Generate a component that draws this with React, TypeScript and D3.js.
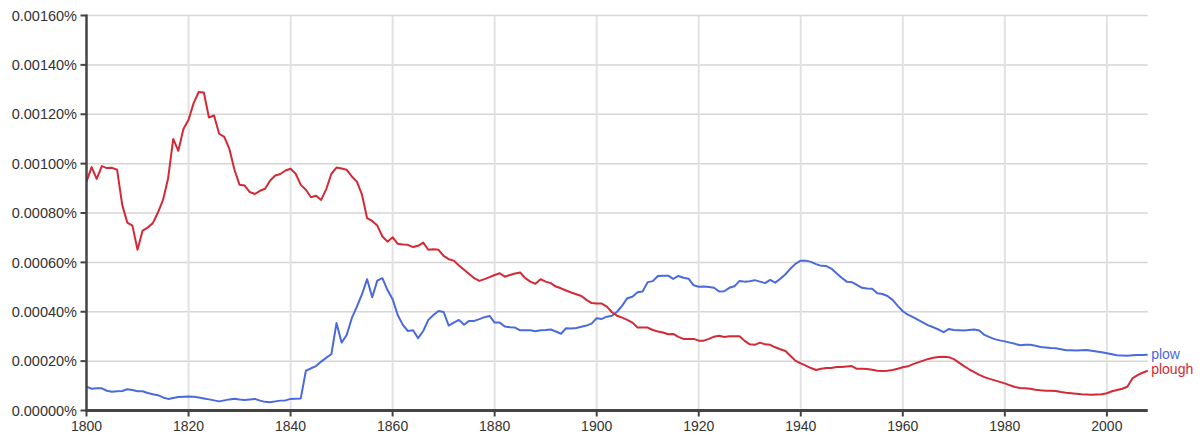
import React from "react";
import * as d3 from "d3";

const startYear = 1800;
const endYear = 2008;

const ploughValues: number[] = [
  0.000927, 0.000986, 0.000938, 0.00099, 0.000982, 0.000983, 0.000975, 0.000833, 0.000761, 0.000749,
  0.000651, 0.000729, 0.000741, 0.000759, 0.000802, 0.000853, 0.000941, 0.0011, 0.001052, 0.00114,
  0.001178, 0.001245, 0.00129, 0.001288, 0.001187, 0.001195, 0.001121, 0.001108, 0.00106, 0.000975,
  0.000914, 0.000911, 0.000885, 0.000877, 0.00089, 0.000898, 0.000932, 0.000952, 0.000958, 0.000972,
  0.000979, 0.000959, 0.000914, 0.000894, 0.000864, 0.00087, 0.000853, 0.000897, 0.000959, 0.000984,
  0.00098, 0.000975, 0.000948, 0.000927, 0.000874, 0.000779, 0.000768, 0.000749, 0.000705, 0.000684,
  0.000702, 0.000675, 0.000672, 0.000671, 0.000662, 0.000667, 0.00068, 0.000651, 0.000653, 0.000651,
  0.000626, 0.000613, 0.000607, 0.000587, 0.00057, 0.000553, 0.000536, 0.000525, 0.000532, 0.00054,
  0.000549, 0.000556, 0.000542, 0.000549, 0.000555, 0.000559, 0.000536, 0.000522, 0.000513, 0.000532,
  0.000522, 0.000516, 0.000502, 0.000495, 0.000486, 0.000478, 0.000471, 0.000464, 0.000448, 0.000435,
  0.000433, 0.000433, 0.000421, 0.000398, 0.000384, 0.000376, 0.000367, 0.000356, 0.000336, 0.000336,
  0.000336, 0.000326, 0.00032, 0.000316, 0.000309, 0.00031, 0.000298, 0.00029, 0.00029, 0.00029,
  0.000283, 0.000283, 0.00029, 0.000299, 0.000303, 0.000298, 0.000301, 0.000301, 0.000301, 0.000282,
  0.000268, 0.000266, 0.000275, 0.000268, 0.000266, 0.000256, 0.000248, 0.000241, 0.000221, 0.000201,
  0.000191, 0.000182, 0.000172, 0.000164, 0.000169, 0.000172, 0.000172, 0.000176, 0.000176, 0.000178,
  0.00018, 0.000169, 0.000169, 0.000168, 0.000165, 0.000161, 0.00016, 0.000161, 0.000164, 0.000169,
  0.000175, 0.000179, 0.000188, 0.000195, 0.000202, 0.000209, 0.000214, 0.000217, 0.000218, 0.000216,
  0.000208, 0.000194, 0.00018, 0.000167, 0.000155, 0.000144, 0.000135, 0.000128, 0.000122, 0.000116,
  0.00011, 0.000102, 0.0000953, 0.0000912, 0.00009, 0.0000884, 0.0000843, 0.0000819, 0.0000803, 0.00008,
  0.000079, 0.000075, 0.000072, 0.00007, 0.000068, 0.000066, 0.000065, 0.000064, 0.000065, 0.000066,
  0.00007, 0.000078, 0.000083, 0.000088, 0.000096, 0.00013, 0.000143, 0.000153, 0.000161,
];

const plowValues: number[] = [
  0.0000965, 0.000088, 0.00009, 0.00009, 0.00008, 0.000076, 0.000078, 0.000079, 0.000086, 0.000083,
  0.000078, 0.000078, 0.000071, 0.000066, 0.000062, 0.000053, 0.000047, 0.000051, 0.000055, 0.000056,
  0.000057, 0.000056, 0.000053, 0.000049, 0.000045, 0.000041, 0.000037, 0.000041, 0.000045, 0.000048,
  0.000045, 0.000043, 0.000045, 0.000047, 0.00004, 0.000035, 0.000033, 0.000037, 0.00004, 0.000041,
  0.000047, 0.000048, 0.000049, 0.000161, 0.000171, 0.00018, 0.000198, 0.000214, 0.000228, 0.000354,
  0.000275, 0.000306, 0.000374, 0.000421, 0.000471, 0.000532, 0.000459, 0.000526, 0.000536, 0.000488,
  0.000451, 0.000387, 0.000347, 0.000322, 0.000325, 0.000293, 0.000322, 0.000367, 0.000387, 0.000403,
  0.000399, 0.000344, 0.000356, 0.000367, 0.000347, 0.000363, 0.000363, 0.00037, 0.000378, 0.000383,
  0.000356, 0.000356, 0.00034, 0.000337, 0.000336, 0.000325, 0.000325, 0.000325, 0.000321, 0.000325,
  0.000326, 0.000328, 0.00032, 0.000311, 0.000333, 0.000332, 0.000334, 0.000339, 0.000344, 0.000352,
  0.000374, 0.000371, 0.00038, 0.000384, 0.0004, 0.000425, 0.000455, 0.000461, 0.000479, 0.000482,
  0.00052, 0.000524, 0.000545, 0.000546, 0.000546, 0.000533, 0.000545, 0.000538, 0.000534, 0.000507,
  0.000501, 0.000502, 0.0005, 0.000497, 0.000482, 0.000483, 0.000497, 0.000503, 0.000525, 0.000522,
  0.000524, 0.000528, 0.000522, 0.000516, 0.000529, 0.000518, 0.000534, 0.000552, 0.000575, 0.000595,
  0.000607, 0.000607, 0.000602, 0.000593, 0.000586, 0.000585, 0.000575, 0.000556, 0.000538, 0.000522,
  0.00052, 0.000509, 0.000497, 0.000494, 0.000493, 0.000475, 0.000472, 0.000464, 0.000448, 0.000424,
  0.000402, 0.000388, 0.000378, 0.000367, 0.000356, 0.000345, 0.000337, 0.000328, 0.000317, 0.00033,
  0.000326, 0.000325, 0.000324, 0.000326, 0.000328, 0.000324, 0.000306, 0.000297, 0.000289, 0.000284,
  0.00028, 0.000275, 0.00027, 0.000264, 0.000266, 0.000266, 0.000262, 0.000257, 0.000255, 0.000253,
  0.000252, 0.000248, 0.000244, 0.000244, 0.000243, 0.000244, 0.000245, 0.000242, 0.000239, 0.000236,
  0.000232, 0.000228, 0.000224, 0.000223, 0.000222, 0.000224, 0.000225, 0.000225, 0.000226,
];

const yTicks: number[] = [0, 0.0002, 0.0004, 0.0006, 0.0008, 0.001, 0.0012, 0.0014, 0.0016];
const xTicks: number[] = [1800, 1820, 1840, 1860, 1880, 1900, 1920, 1940, 1960, 1980, 2000];

const seriesNames = ["plow", "plough"];
const seriesColors = ["#4a6ade", "#d42a36"];

const W = 1204;
const H = 439;
const left = 86.5;
const right = 1147.7;
const top = 15.5;
const bottom = 410.5;
const font = "Arial, 'Liberation Sans', Helvetica, sans-serif";

export default function App() {
  const x = d3.scaleLinear().domain([startYear, endYear]).range([left, right]);
  const y = d3.scaleLinear().domain([0, 0.0016]).range([bottom, top]);
  const line = d3
    .line<number>()
    .x((_, i) => x(startYear + i))
    .y((d) => y(d));

  const series = [plowValues, ploughValues];
  const labelDy = [4.5, 3];

  return (
    <svg
      width={W}
      height={H}
      style={{ position: "absolute", left: 0, top: 0, background: "#fff" }}
    >
      {/* horizontal grid */}
      {yTicks.map((t) => (
        <line
          key={"hg" + t}
          x1={left}
          x2={right}
          y1={y(t)}
          y2={y(t)}
          stroke="#d6d6d6"
          strokeWidth={1.5}
        />
      ))}
      {/* vertical grid */}
      {xTicks.slice(1).map((t) => (
        <line
          key={"vg" + t}
          x1={x(t)}
          x2={x(t)}
          y1={top}
          y2={bottom}
          stroke="#e2e2e2"
          strokeWidth={2}
        />
      ))}
      {/* series */}
      {series.map((vals, i) => (
        <path
          key={seriesNames[i]}
          d={line(vals) || ""}
          fill="none"
          stroke={seriesColors[i]}
          strokeWidth={2}
          strokeLinejoin="round"
        />
      ))}
      {/* axes */}
      <line x1={left} x2={left} y1={top - 1} y2={bottom + 1.5} stroke="#444" strokeWidth={2.5} />
      <line x1={left - 1} x2={right} y1={bottom} y2={bottom} stroke="#444" strokeWidth={3} />
      {yTicks.map((t) => (
        <g key={"yt" + t}>
          <line x1={left - 6} x2={left} y1={y(t)} y2={y(t)} stroke="#444" strokeWidth={2} />
          <text
            x={77}
            y={y(t)}
            dy="0.36em"
            textAnchor="end"
            fontFamily={font}
            fontSize={14.5}
            fill="#333"
          >
            {t.toFixed(5) + "%"}
          </text>
        </g>
      ))}
      {xTicks.map((t) => (
        <g key={"xt" + t}>
          <line x1={x(t)} x2={x(t)} y1={bottom} y2={bottom + 6} stroke="#444" strokeWidth={2} />
          <text
            x={x(t)}
            y={431}
            textAnchor="middle"
            fontFamily={font}
            fontSize={14}
            fill="#333"
          >
            {t}
          </text>
        </g>
      ))}
      {/* end labels */}
      {series.map((vals, i) => (
        <text
          key={"lab" + i}
          x={right + 3.5}
          y={y(vals[vals.length - 1]) + labelDy[i]}
          fontFamily={font}
          fontSize={14}
          fill={seriesColors[i]}
        >
          {seriesNames[i]}
        </text>
      ))}
    </svg>
  );
}
